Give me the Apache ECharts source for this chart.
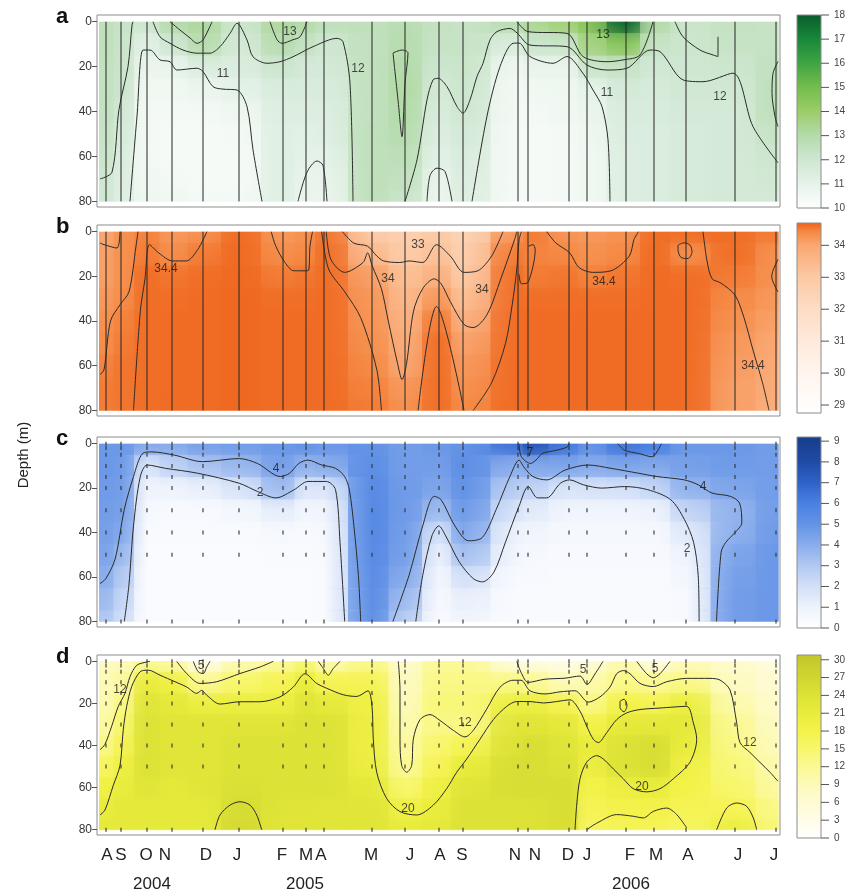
<!DOCTYPE html>
<html>
<head>
<meta charset="utf-8">
<script src="https://cdn.jsdelivr.net/npm/echarts@6/dist/echarts.min.js"></script>
<style>
  html, body { margin: 0; padding: 0; background: #fff; }
  #main { width: 849px; height: 895px; }
</style>
</head>
<body>
<div id="main"></div>
<script>
// sampling stations (position along the time axis) and depth levels (m)
var stations = [106, 121, 147, 172, 203, 239, 283, 306, 324, 372, 405, 439, 463, 518, 528, 569, 587, 626, 654, 686, 735, 776];
var depths = [0, 10, 20, 30, 40, 50, 60, 70, 80];
var sampleDepths = [0, 2, 5, 10, 15, 20, 30, 40, 50, 80];
var xStart = 99, xEnd = 778;

// x axis labels
var monthPos = [107, 121, 146, 165, 206, 237, 282, 306, 321, 371, 410, 440, 462, 515, 535, 568, 587, 630, 656, 688, 738, 774];
var monthText = ['A', 'S', 'O', 'N', 'D', 'J', 'F', 'M', 'A', 'M', 'J', 'A', 'S', 'N', 'N', 'D', 'J', 'F', 'M', 'A', 'J', 'J'];
var yearPos = [152, 305, 631];
var yearText = ['2004', '2005', '2006'];

// panel a - one row per station, values at depths 0..80
var gridA = [
  [12.6, 12.6, 12.5, 12.5, 12.4, 12.3, 12.2, 12.0, 11.9],
  [12.3, 12.2, 12.2, 12.1, 11.9, 11.7, 11.5, 11.4, 11.3],
  [12.0, 11.2, 10.8, 10.6, 10.5, 10.5, 10.5, 10.6, 10.7],
  [13.0, 12.0, 10.9, 10.6, 10.5, 10.4, 10.4, 10.5, 10.6],
  [13.2, 12.9, 11.5, 10.8, 10.5, 10.4, 10.4, 10.4, 10.5],
  [12.1, 11.8, 11.5, 11.1, 10.7, 10.5, 10.4, 10.4, 10.5],
  [13.2, 12.9, 12.1, 11.6, 11.4, 11.3, 11.3, 11.3, 11.3],
  [13.0, 12.4, 11.8, 11.6, 11.4, 11.2, 11.1, 10.9, 10.8],
  [12.6, 12.0, 11.8, 11.6, 11.4, 11.3, 11.1, 10.9, 10.8],
  [12.6, 12.5, 12.5, 12.5, 12.5, 12.6, 12.6, 12.6, 12.6],
  [12.8, 12.9, 13.0, 13.1, 13.0, 12.9, 12.7, 12.5, 12.2],
  [12.4, 12.3, 12.1, 11.8, 11.6, 11.4, 11.2, 10.9, 10.8],
  [12.3, 12.3, 12.2, 12.1, 12.0, 11.8, 11.6, 11.5, 11.4],
  [12.9, 11.5, 10.7, 10.5, 10.5, 10.4, 10.4, 10.4, 10.4],
  [13.3, 12.1, 10.9, 10.6, 10.5, 10.4, 10.4, 10.4, 10.4],
  [13.8, 12.2, 10.9, 10.7, 10.6, 10.5, 10.5, 10.5, 10.5],
  [14.5, 13.6, 12.2, 11.0, 10.8, 10.7, 10.6, 10.6, 10.6],
  [17.8, 14.5, 12.3, 11.8, 11.6, 11.5, 11.4, 11.4, 11.4],
  [13.1, 12.3, 11.9, 11.7, 11.6, 11.5, 11.5, 11.5, 11.5],
  [12.2, 12.1, 12.0, 11.9, 11.8, 11.7, 11.7, 11.7, 11.7],
  [12.4, 12.3, 12.1, 11.9, 11.8, 11.8, 11.8, 11.8, 11.8],
  [12.3, 12.3, 12.5, 12.6, 12.6, 12.3, 12.1, 11.9, 11.8]
];
var contoursA = [
  [[100, 70], [112, 67], [119, 39], [128, 20], [132, 1.5], [133, 0]],
  [[130, 80], [137, 42], [143, 12.6], [150, 12.6], [160, 17], [170, 17.8], [177, 21.5], [197, 20.7], [203, 22.2], [213, 28.9], [223, 30], [237, 30.4], [247, 37.8], [253, 57], [262, 80]],
  [[153, 0], [160, 6.7], [170, 9.6], [183, 12.6], [197, 14], [210, 14], [220, 11.1], [230, 5.2], [237, 0.7], [247, 8.1], [253, 15.6], [267, 18.5], [280, 17.8], [293, 15.6], [313, 11.1], [337, 7.4], [343, 8.9], [350, 27.4], [353, 80]],
  [[170, 0], [180, 3.7], [190, 7.2], [197, 9.6], [203, 8.1], [212, 0]],
  [[270, 0], [277, 8], [282, 9.6], [293, 8], [300, 6.7], [307, 0]],
  [[298, 80], [307, 67], [317, 62], [323, 64], [327, 80]],
  [[393, 13.9], [402, 12.6], [408, 13.9], [405, 27.3], [402, 51.2], [398, 34.8], [393, 13.9]],
  [[405, 80], [417, 61.5], [427, 34.8], [433, 25.9], [438, 25.2], [447, 28.9], [457, 37.8], [463, 40.7], [470, 34.8], [477, 24.4], [483, 18.5], [490, 8.1], [497, 4.4], [510, 3], [517, 5], [530, 10.4], [567, 11.1], [587, 19.3], [607, 21.5], [627, 20.7], [650, 12.6], [660, 13.3], [683, 25.9], [703, 26.7], [733, 22.9], [753, 46.7], [778, 62.8]],
  [[472, 80], [487, 42], [500, 20], [513, 9.6], [519, 9.5], [530, 15.5], [553, 18.5], [567, 15.5], [583, 23], [593, 30.4], [602, 37.8], [608, 52.6], [610, 80]],
  [[517, 0], [528, 4.4], [567, 5.2], [583, 15.5], [607, 17.8], [623, 17], [640, 14.8], [653, 0]],
  [[427, 80], [430, 68.5], [437, 65.2], [445, 66.7], [452, 80]],
  [[675, 0], [683, 6.7], [700, 12.6], [713, 14.8], [718, 15.5], [718, 6.7]],
  [[778, 17.7], [773, 23], [772, 31.8], [775, 42.2], [778, 46.7]]
];
var labelsA = [[223, 23, '11'], [290, 4.6, '13'], [358, 20.7, '12'], [603, 5.9, '13'], [607, 31.8, '11'], [720, 33.3, '12']];

// panel b
var gridB = [
  [34.0, 34.1, 34.1, 34.2, 34.3, 34.35, 34.45, 34.5, 34.5],
  [34.3, 34.3, 34.3, 34.35, 34.45, 34.5, 34.55, 34.55, 34.55],
  [34.45, 34.5, 34.6, 34.6, 34.6, 34.6, 34.6, 34.6, 34.6],
  [34.2, 34.35, 34.55, 34.6, 34.62, 34.62, 34.62, 34.62, 34.62],
  [34.3, 34.5, 34.6, 34.62, 34.62, 34.62, 34.62, 34.62, 34.62],
  [34.62, 34.63, 34.64, 34.65, 34.65, 34.65, 34.65, 34.65, 34.65],
  [34.2, 34.35, 34.5, 34.6, 34.62, 34.62, 34.62, 34.62, 34.62],
  [34.3, 34.4, 34.55, 34.6, 34.62, 34.62, 34.62, 34.62, 34.62],
  [34.55, 34.6, 34.6, 34.62, 34.62, 34.62, 34.62, 34.62, 34.62],
  [32.9, 33.4, 34.1, 34.2, 34.25, 34.3, 34.38, 34.45, 34.5],
  [32.7, 32.9, 33.3, 33.5, 33.7, 33.85, 34.0, 34.2, 34.3],
  [32.9, 33.2, 33.7, 34.2, 34.5, 34.6, 34.6, 34.6, 34.6],
  [32.5, 32.7, 32.95, 33.3, 33.7, 34.05, 34.2, 34.3, 34.4],
  [34.2, 34.5, 34.6, 34.6, 34.62, 34.62, 34.62, 34.62, 34.62],
  [34.5, 34.45, 34.5, 34.6, 34.62, 34.62, 34.62, 34.62, 34.62],
  [34.25, 34.4, 34.55, 34.6, 34.62, 34.62, 34.62, 34.62, 34.62],
  [34.2, 34.3, 34.45, 34.6, 34.62, 34.62, 34.62, 34.62, 34.62],
  [34.3, 34.4, 34.55, 34.6, 34.62, 34.62, 34.62, 34.62, 34.62],
  [34.6, 34.62, 34.62, 34.62, 34.62, 34.62, 34.62, 34.62, 34.62],
  [34.6, 34.35, 34.6, 34.62, 34.62, 34.62, 34.62, 34.62, 34.62],
  [34.6, 34.6, 34.5, 34.38, 34.3, 34.2, 34.15, 34.1, 34.1],
  [34.5, 34.3, 34.3, 34.2, 34.1, 34.0, 33.9, 33.85, 33.8]
];
var contoursB = [
  [[100, 5], [104, 5.8], [117, 7.3], [120, 0]],
  [[100, 64], [104, 61.8], [110.5, 40], [120, 32.7], [129, 26.9], [136, 6.5], [138, 0]],
  [[133.5, 80], [140.3, 35.6], [145, 21], [149.5, 5.8], [158.7, 9.5], [172.5, 13.1], [186.3, 13.1], [197.7, 8], [206.9, 0]],
  [[271.2, 0], [275.8, 6.5], [285, 13.8], [294, 17.5], [308, 17.5], [310, 6.5], [312.5, 0]],
  [[342.4, 0], [353.8, 5.1], [367.6, 6.5], [376.8, 10.9], [383.7, 13.1], [399.8, 13.8], [409, 13.1], [422.7, 13.8], [436.5, 5.8], [450.3, 10.9], [464, 18.2], [477.8, 17.5], [491.6, 10.9], [503, 0]],
  [[326.3, 0], [330.9, 12.4], [344.7, 18.2], [363, 13.8], [367.6, 9.5], [372.2, 15.3], [381.4, 25.5], [388.3, 40], [397.5, 58.9], [402.1, 66.2], [406.6, 58.9], [413.5, 35.6], [422.7, 25.5], [434.2, 21.1], [441.1, 23.3], [450.3, 31.3], [464, 41.5], [473.2, 42.9], [487, 37.1], [500.8, 21.1], [514.5, 3.6], [516.8, 0]],
  [[321.7, 0], [328.6, 16.7], [344.7, 26.9], [360.7, 38.5], [376.8, 61.8], [381.4, 80]],
  [[418.1, 80], [436.5, 33.5], [464, 80]],
  [[473.2, 80], [491.6, 67.6], [505.4, 50.2], [512.2, 32.7], [516.8, 16.7], [519.1, 3.6], [521.4, 0]],
  [[519, 19], [521.4, 23.3], [528.3, 22.5], [535.2, 8], [533, 5.8], [528.3, 6.5]],
  [[546.7, 0], [556, 5.1], [569.7, 9.5], [578.9, 16], [592.6, 18.2], [611, 17.5], [629.3, 10.9], [633.9, 3.6], [638.5, 0]],
  [[678, 6], [684, 5], [690, 6], [692, 9], [688, 12], [681, 11.5], [678, 8], [678, 6]],
  [[703, 0], [707, 13], [712, 21], [721, 23], [735, 28.4], [744, 38.5], [753, 53], [762.5, 67.6], [769, 80]],
  [[778, 12.4], [771.7, 20], [778, 27]]
];
var labelsB = [[166, 16.7, '34.4'], [418, 5.8, '33'], [388, 21, '34'], [482, 26, '34'], [604, 22.5, '34.4'], [753, 60, '34.4']];

// panel c
var gridC = [
  [4.8, 4.8, 4.7, 4.6, 4.5, 4.3, 4.0, 3.5, 3.0],
  [4.8, 4.7, 4.6, 4.5, 4.2, 3.6, 3.0, 2.5, 2.1],
  [4.2, 1.8, 1.0, 0.6, 0.4, 0.3, 0.3, 0.3, 0.3],
  [4.1, 2.6, 1.0, 0.5, 0.4, 0.3, 0.3, 0.3, 0.3],
  [4.5, 3.2, 1.2, 0.5, 0.4, 0.3, 0.3, 0.3, 0.3],
  [4.6, 3.6, 1.8, 0.7, 0.4, 0.3, 0.3, 0.3, 0.3],
  [4.8, 4.5, 3.5, 1.3, 0.6, 0.4, 0.3, 0.3, 0.3],
  [5.0, 3.8, 1.7, 0.8, 0.5, 0.4, 0.3, 0.3, 0.3],
  [4.8, 4.0, 1.7, 0.9, 0.6, 0.5, 0.4, 0.4, 0.4],
  [5.0, 5.2, 5.4, 5.5, 5.5, 5.4, 5.3, 5.2, 5.1],
  [4.6, 4.6, 4.7, 4.7, 4.6, 4.5, 4.1, 3.5, 2.8],
  [4.8, 4.6, 4.3, 3.5, 2.0, 1.2, 0.8, 0.6, 0.5],
  [5.0, 5.2, 5.0, 4.7, 4.2, 3.3, 2.0, 1.2, 0.9],
  [6.5, 4.0, 2.8, 1.8, 1.0, 0.7, 0.5, 0.4, 0.4],
  [7.6, 4.2, 2.6, 1.5, 0.9, 0.6, 0.5, 0.4, 0.4],
  [6.2, 4.3, 1.8, 0.9, 0.6, 0.5, 0.4, 0.4, 0.4],
  [5.0, 4.1, 1.9, 0.9, 0.6, 0.5, 0.4, 0.4, 0.4],
  [6.3, 4.3, 2.0, 0.9, 0.6, 0.5, 0.4, 0.4, 0.4],
  [6.0, 4.2, 2.5, 1.0, 0.6, 0.5, 0.4, 0.4, 0.4],
  [4.8, 4.5, 3.8, 2.5, 1.5, 1.0, 0.7, 0.5, 0.5],
  [4.8, 4.7, 4.3, 3.8, 3.9, 4.3, 4.5, 4.6, 4.6],
  [4.6, 4.6, 4.6, 4.6, 4.7, 4.8, 4.8, 4.8, 4.8]
];
var contoursC = [
  [[100, 63], [105.9, 60.7], [115.1, 51.9], [124.3, 29.6], [133.5, 14.8], [142.6, 4.4], [151.8, 3.7], [174.8, 5.2], [202.3, 8.1], [239.1, 6.7], [257.4, 8.9], [280.4, 14.8], [289.6, 13.3], [298.8, 8.9], [307.9, 7.4], [321.7, 9.6], [335.5, 11.1], [344.7, 14.8], [349.3, 20.7], [353.9, 37], [358.4, 59.3], [360.7, 80]],
  [[124.3, 80], [128.9, 63.7], [133.5, 37], [140.3, 14.8], [147.2, 9.6], [165.6, 11.1], [197.7, 13.3], [239.1, 17.8], [257.4, 21.5], [275.8, 24.4], [294.2, 20.7], [307.9, 17], [326.3, 17], [335.5, 20.7], [340, 44.4], [344.7, 80]],
  [[392.9, 80], [409, 59.3], [422.7, 37], [434.2, 23.7], [441.1, 25.2], [454.9, 37], [468.6, 43.7], [482.4, 42.2], [496.2, 29.6], [509.9, 14.8], [519.1, 7.4], [523.7, 10.4], [532.9, 14.8], [546.7, 16.3], [565, 11.9], [588, 9.6], [611, 11.1], [638.5, 13.3], [656.9, 14.8], [684.4, 16.3], [698.2, 18.5], [711.9, 22.2], [730.3, 23.7], [739.5, 26.7], [741.8, 35.6], [735, 40], [725.8, 44.4], [721.1, 48.9], [716.5, 80]],
  [[415.8, 80], [422.7, 59.3], [431.9, 41.5], [438.8, 37], [445.7, 41.5], [459.4, 53.3], [473.2, 60.7], [482.4, 62.2], [493.9, 57.8], [505.4, 44.4], [519.1, 28.1], [528.3, 19.3], [537.5, 24.4], [546.7, 24.4], [560.4, 17.8], [569.7, 16.3], [583.4, 18.5], [601.7, 20], [624.7, 19.3], [647.7, 20.7], [670.7, 25.2], [684.4, 34.1], [693.6, 44.4], [698.2, 59.3], [699.1, 80]],
  [[519, 0], [521.4, 5.9], [530.6, 8.9], [537.5, 6.7], [542.1, 4.4], [555.9, 3], [567.3, 1.5], [568.7, 0]],
  [[617.8, 0], [624.7, 3], [638.5, 4.4], [652.3, 5.9], [656.9, 3.7], [661.5, 0]]
];
var labelsC = [[276, 11.1, '4'], [260, 22.2, '2'], [703, 19.3, '4'], [687, 47.4, '2'], [530, 4, '7']];

// panel d
var gridD = [
  [8, 9, 10, 11, 13, 16, 19, 21, 22],
  [9, 11, 13, 15, 17, 19.5, 21, 22, 22],
  [12, 21, 23, 24, 24, 24, 23, 22, 22],
  [11, 19, 22, 23, 23, 23, 22, 22, 22],
  [4, 12, 20, 23, 23, 23, 23, 22, 22],
  [10, 15, 20, 23, 24, 24, 24.5, 25.5, 26],
  [12, 17, 20, 23, 24, 24, 24, 23.5, 23],
  [15, 21, 23, 24, 24, 24, 24, 23.5, 23],
  [10, 17, 22, 24, 24, 24, 24, 23, 23],
  [13, 17, 19, 19.5, 19.5, 20, 22, 23, 23],
  [7, 8, 9, 10, 11, 12, 15, 19, 21],
  [12, 13, 14, 13, 15, 17, 19.5, 21, 22],
  [12, 13, 14, 13, 17, 21, 23, 24, 24],
  [5, 13, 20, 23, 24, 25, 25, 24, 24],
  [5, 12, 20, 23, 25, 25, 25, 24, 24],
  [4, 9, 17, 22, 23, 24, 25, 25, 25],
  [6, 10, 13, 18, 21, 20, 18, 17, 16],
  [10, 13, 18, 22, 24, 24, 20, 18, 17],
  [5, 12, 17, 22, 25, 25, 21, 18, 17],
  [9, 13, 20, 22, 21, 19, 18, 17, 16],
  [7, 8, 10, 12, 13, 14, 15, 17, 20],
  [5, 6, 7, 8, 9, 10, 11, 13, 14]
];
var contoursD = [
  [[100, 42], [105, 39.4], [111.7, 30.8], [118.3, 21.4], [125, 15.2], [130, 7.3], [136.7, 1.9], [146.7, 0.3], [150, 0]],
  [[176.7, 0], [186.7, 5.8], [200, 10.5], [216.7, 9.7], [240, 5.8], [260, 2.7], [273.3, 0]],
  [[193.3, 0], [198.3, 5], [203.3, 5.8], [206.7, 2.7], [210, 0]],
  [[318.3, 0], [323.3, 3.4], [328.3, 6.6], [333.3, 3.4], [340, 0]],
  [[100, 73], [105, 70.6], [113.3, 58.9], [120, 49.5], [123.3, 32.3], [126.7, 21.4], [131.7, 12], [140, 5], [148.3, 4.2], [160, 6.6], [175, 9.7], [186.7, 12.2], [196.7, 15.2], [201.7, 13.8], [206.7, 16.1], [220, 20.3], [240, 19.2], [260, 19.2], [280, 16.9], [293.3, 12.2], [305, 5.9], [316.7, 10.5], [326.7, 12.8], [343.3, 15.9], [356.7, 16.7], [368, 14], [372, 21.4], [373.3, 37], [376.7, 52.7], [386.7, 65.2], [400, 71.4], [416.7, 73], [433.3, 68.3], [446.7, 60.5], [456.7, 52.7], [466.7, 46.4], [480, 37], [493.3, 27.7], [506.7, 21.4], [516.7, 19.1], [530, 19.1], [543.3, 19.8], [556.7, 19.1], [570, 18.3], [580, 23.7], [586.7, 30.8], [593.3, 37], [598.3, 38.6], [606.7, 33.9], [616.7, 27.7], [626.7, 24.5], [640, 22.9], [660, 22.2], [686.7, 21.4], [693.3, 29.2], [696.7, 37], [690, 47.9], [673.3, 55.8], [660, 60.5], [646.7, 62], [633.3, 60.5], [623.3, 55.8], [613.3, 51.1], [603.3, 46.4], [596.7, 44.8], [586.7, 47.9], [580, 55.8], [576.7, 68.3], [575, 80]],
  [[398.3, 0], [400, 13.6], [400, 37], [401.7, 49.5], [406.7, 52.7], [411.7, 49.5], [413.3, 37], [420, 27.7], [430, 25.3], [440, 28.1], [453.3, 32.8], [465, 35.9], [473.3, 32.8], [486.7, 22.7], [500, 12.3], [513, 9], [521, 9], [530, 14], [545, 15.5], [560, 14.5], [575, 14], [588.3, 19.4], [600, 16.9], [610, 12.2], [616.7, 5.9], [623.3, 4.4], [630, 5.9], [640, 10.5], [653.3, 12], [666.7, 9.7], [686.7, 8.1], [710, 8.1], [720, 8.9], [730, 13.6], [736.7, 29.2], [740, 38.6], [750, 43.3], [760, 48], [770, 52.7], [778, 57]],
  [[516.7, 0], [521.7, 5.9], [528, 10], [545, 8.5], [565, 8], [580, 7], [587, 11], [595, 6], [603, 0]],
  [[636.7, 0], [646.7, 5.9], [653.3, 7.8], [660, 5.9], [670, 0]],
  [[620, 19], [624, 18], [627, 21], [624, 24], [620, 22], [620, 19]],
  [[215, 80], [220, 73], [230, 68.3], [240, 66.7], [250, 68.3], [256.7, 73], [261.7, 80]],
  [[586.7, 80], [596.7, 76.9], [616.7, 72.8], [633.3, 73.6], [643.3, 74.4], [653.3, 71.3], [666.7, 69.7], [676.7, 72.8], [686.7, 79.1]],
  [[716.7, 80], [726.7, 69.7], [736.7, 67.3], [746.7, 68.9], [753.3, 74.4], [756.7, 80]]
];
var labelsD = [[120, 13.6, '12'], [201, 2, '5'], [408, 70, '20'], [465, 29, '12'], [583, 4, '5'], [655, 3.5, '5'], [642, 59.7, '20'], [750, 38.6, '12']];

// colour scales (value, colour)
var stopsA = [[10, '#ffffff'], [11, '#e6f3ea'], [12, '#cfe7d2'], [13, '#b4dbab'], [14, '#9ccd68'], [15, '#74bd4e'], [16, '#3ea443'], [17, '#17883a'], [18, '#0a5c2c']];
var stopsB = [[28.75, '#ffffff'], [30, '#fff5ee'], [31, '#feeadb'], [32, '#fddcc4'], [33, '#fcc9a3'], [34, '#f9a772'], [34.4, '#f58a45'], [34.7, '#ee6118']];
var stopsC = [[0, '#ffffff'], [1, '#eef3fc'], [2, '#d3e0f8'], [3, '#b2c9f2'], [4, '#8aadec'], [5, '#6393e6'], [6, '#4a80e2'], [7, '#2f62c8'], [8, '#1f4ba6'], [9.2, '#173d8a']];
var stopsD = [[0, '#ffffff'], [3, '#fffde9'], [6, '#fefbd4'], [9, '#fdfab9'], [12, '#fbf993'], [15, '#f8f66c'], [18, '#f3f24a'], [21, '#e9ec3c'], [24, '#dde236'], [27, '#d0d630'], [30.8, '#c2c62a']];

var FONT = 'Liberation Sans, Arial, Helvetica, sans-serif';

function hexRgb(h) {
  return [parseInt(h.substr(1, 2), 16), parseInt(h.substr(3, 2), 16), parseInt(h.substr(5, 2), 16)];
}
// linear colour lookup between the stops
function makeCmap(stops) {
  return function (v) {
    if (v <= stops[0][0]) return stops[0][1];
    for (var k = 1; k < stops.length; k++) {
      if (v <= stops[k][0]) {
        var t = (v - stops[k - 1][0]) / (stops[k][0] - stops[k - 1][0]);
        var a = hexRgb(stops[k - 1][1]), b = hexRgb(stops[k][1]);
        return 'rgb(' + Math.round(a[0] + (b[0] - a[0]) * t) + ',' + Math.round(a[1] + (b[1] - a[1]) * t) + ',' + Math.round(a[2] + (b[2] - a[2]) * t) + ')';
      }
    }
    return stops[stops.length - 1][1];
  };
}

var panels = [
  { vals: gridA, contours: contoursA, labels: labelsA, stops: stopsA, lines: true, top: 15, height: 192, bar: [15, 193], min: 10, max: 18, ticks: [10, 11, 12, 13, 14, 15, 16, 17, 18], letter: 'a' },
  { vals: gridB, contours: contoursB, labels: labelsB, stops: stopsB, lines: true, top: 225, height: 191, bar: [223, 190], min: 28.75, max: 34.7, ticks: [29, 30, 31, 32, 33, 34], letter: 'b' },
  { vals: gridC, contours: contoursC, labels: labelsC, stops: stopsC, lines: false, top: 437, height: 190, bar: [437, 191], min: 0, max: 9.2, ticks: [0, 1, 2, 3, 4, 5, 6, 7, 8, 9], letter: 'c' },
  { vals: gridD, contours: contoursD, labels: labelsD, stops: stopsD, lines: false, top: 655, height: 180, bar: [655, 183], min: 0, max: 30.8, ticks: [0, 3, 6, 9, 12, 15, 18, 21, 24, 27, 30], letter: 'd' }
];

var chart = echarts.init(document.getElementById('main'), null, { renderer: 'canvas' });
var grids = [], xAxes = [], yAxes = [], series = [], graphics = [];

// grids 0-3: sections, grids 4-7: colour bars
panels.forEach(function (p, n) {
  grids.push({ left: 97, width: 683, top: p.top, height: p.height, show: true, borderColor: '#8c8c8c', borderWidth: 1, backgroundColor: 'transparent' });
  xAxes.push({
    gridIndex: n, type: 'value', min: 97, max: 780, show: n === 3,
    axisLine: { show: false }, axisTick: { show: false }, splitLine: { show: false },
    axisLabel: {
      show: n === 3, customValues: monthPos, margin: 12, fontSize: 17, color: '#222', fontFamily: FONT,
      formatter: function (v) { return monthText[monthPos.indexOf(v)]; }
    }
  });
  yAxes.push({
    gridIndex: n, type: 'value', inverse: true, min: -3, max: 82.5,
    axisLine: { show: false }, splitLine: { show: false },
    axisTick: { show: true, customValues: [0, 20, 40, 60, 80], length: 5, lineStyle: { color: '#555' } },
    axisLabel: { customValues: [0, 20, 40, 60, 80], fontSize: 12, color: '#333', margin: 5, fontFamily: FONT }
  });
});
panels.forEach(function (p, n) {
  var barStops = p.stops.map(function (s) { return { offset: (p.max - s[0]) / (p.max - p.min), color: s[1] }; }).reverse();
  grids.push({
    left: 797, width: 24, top: p.bar[0], height: p.bar[1], show: true, borderColor: '#8c8c8c', borderWidth: 1,
    backgroundColor: new echarts.graphic.LinearGradient(0, 0, 0, 1, barStops)
  });
  xAxes.push({ gridIndex: 4 + n, type: 'value', min: 0, max: 1, show: false });
  yAxes.push({
    gridIndex: 4 + n, type: 'value', position: 'right', min: p.min, max: p.max,
    axisLine: { show: false }, splitLine: { show: false }, axisTick: { show: false },
    axisLabel: { customValues: p.ticks, fontSize: 10, color: '#444', margin: 13, fontFamily: FONT }
  });
  // tick marks on the right side of the bar
  series.push({
    type: 'custom', xAxisIndex: 4 + n, yAxisIndex: 4 + n, silent: true, clip: false, z: 10, animation: false,
    data: p.ticks.map(function (v) { return [1, v]; }),
    renderItem: function (params, api) {
      var c = api.coord([1, api.value(1)]);
      return { type: 'line', shape: { x1: c[0], y1: c[1], x2: c[0] + 8, y2: c[1] }, style: { stroke: '#555', lineWidth: 1 } };
    }
  });
});
xAxes.push({
  gridIndex: 3, type: 'value', min: 97, max: 780, position: 'bottom', offset: 30,
  axisLine: { show: false }, axisTick: { show: false }, splitLine: { show: false },
  axisLabel: {
    customValues: yearPos, fontSize: 17, color: '#222', fontFamily: FONT, margin: 11,
    formatter: function (v) { return yearText[yearPos.indexOf(v)]; }
  }
});

panels.forEach(function (p, n) {
  var cmap = makeCmap(p.stops);

  // layer 1: vertical strips around each station, smooth in depth
  series.push({
    type: 'custom', xAxisIndex: n, yAxisIndex: n, silent: true, z: 1, animation: false,
    data: stations.map(function (s, i) { return [s, 40, i]; }),
    encode: { x: 0, y: 1 },
    renderItem: function (params, api) {
      var i = api.value(2);
      var left = i === 0 ? xStart : (stations[i - 1] + stations[i]) / 2;
      var right = i === stations.length - 1 ? xEnd : (stations[i] + stations[i + 1]) / 2;
      var a = api.coord([left, 0]), b = api.coord([right, 80]);
      var cs = depths.map(function (d, j) { return { offset: d / 80, color: cmap(p.vals[i][j]) }; });
      return {
        type: 'rect',
        shape: { x: a[0], y: a[1], width: b[0] - a[0] + 0.6, height: b[1] - a[1] },
        style: { fill: new echarts.graphic.LinearGradient(0, 0, 0, 1, cs) }
      };
    }
  });
  // layer 2: depth bands between stations, smooth in time, half opacity on top
  var bandData = [];
  for (var k = 0; k <= stations.length; k++) {
    for (var j = 0; j < depths.length; j++) bandData.push([k === 0 ? xStart : stations[k - 1], depths[j], k, j]);
  }
  series.push({
    type: 'custom', xAxisIndex: n, yAxisIndex: n, silent: true, z: 2, animation: false,
    data: bandData, encode: { x: 0, y: 1 },
    renderItem: function (params, api) {
      var k = api.value(2), j = api.value(3);
      var left = k === 0 ? xStart : stations[k - 1];
      var right = k === stations.length ? xEnd : stations[k];
      var iL = Math.max(k - 1, 0), iR = Math.min(k, stations.length - 1);
      var a = api.coord([left, Math.max(0, depths[j] - 5)]);
      var b = api.coord([right, Math.min(80, depths[j] + 5)]);
      return {
        type: 'rect',
        shape: { x: a[0], y: a[1], width: b[0] - a[0] + 0.6, height: b[1] - a[1] + 0.6 },
        style: {
          opacity: 0.5,
          fill: new echarts.graphic.LinearGradient(0, 0, 1, 0, [
            { offset: 0, color: cmap(p.vals[iL][j]) }, { offset: 1, color: cmap(p.vals[iR][j]) }
          ])
        }
      };
    }
  });

  // station markers
  if (p.lines) {
    stations.forEach(function (s) {
      series.push({
        type: 'line', xAxisIndex: n, yAxisIndex: n, data: [[s, 0], [s, 80]], symbol: 'none', silent: true, z: 4, animation: false,
        lineStyle: { color: '#262626', width: 1 }
      });
    });
  } else {
    var pts = [];
    stations.forEach(function (s) { sampleDepths.forEach(function (d) { pts.push([s, d]); }); });
    series.push({
      type: 'scatter', xAxisIndex: n, yAxisIndex: n, data: pts, symbol: 'rect', symbolSize: [1.4, 4], silent: true, z: 4, animation: false,
      itemStyle: { color: '#333' }
    });
  }

  // contour lines and their labels
  p.contours.forEach(function (c) {
    series.push({
      type: 'line', xAxisIndex: n, yAxisIndex: n, data: c, symbol: 'none', smooth: 0.3, silent: true, z: 5, animation: false,
      lineStyle: { color: '#2b2b2b', width: 1 }
    });
  });
  series.push({
    type: 'scatter', xAxisIndex: n, yAxisIndex: n, data: p.labels, symbolSize: 1, silent: true, z: 6, animation: false,
    itemStyle: { color: 'rgba(0,0,0,0)' },
    label: { show: true, position: 'inside', fontSize: 12, color: '#1a1a1a', fontFamily: FONT, formatter: function (q) { return q.data[2]; } }
  });

  graphics.push({
    type: 'text', left: 56, top: p.top - 9,
    style: { text: p.letter, font: 'bold 22px ' + FONT, fill: '#111' }
  });
});

graphics.push({
  type: 'text', x: 24, y: 455, rotation: Math.PI / 2,
  style: { text: 'Depth (m)', font: '15px ' + FONT, fill: '#222', align: 'center', verticalAlign: 'middle' }
});

chart.setOption({
  animation: false,
  grid: grids,
  xAxis: xAxes,
  yAxis: yAxes,
  series: series,
  graphic: graphics
});
</script>
</body>
</html>
